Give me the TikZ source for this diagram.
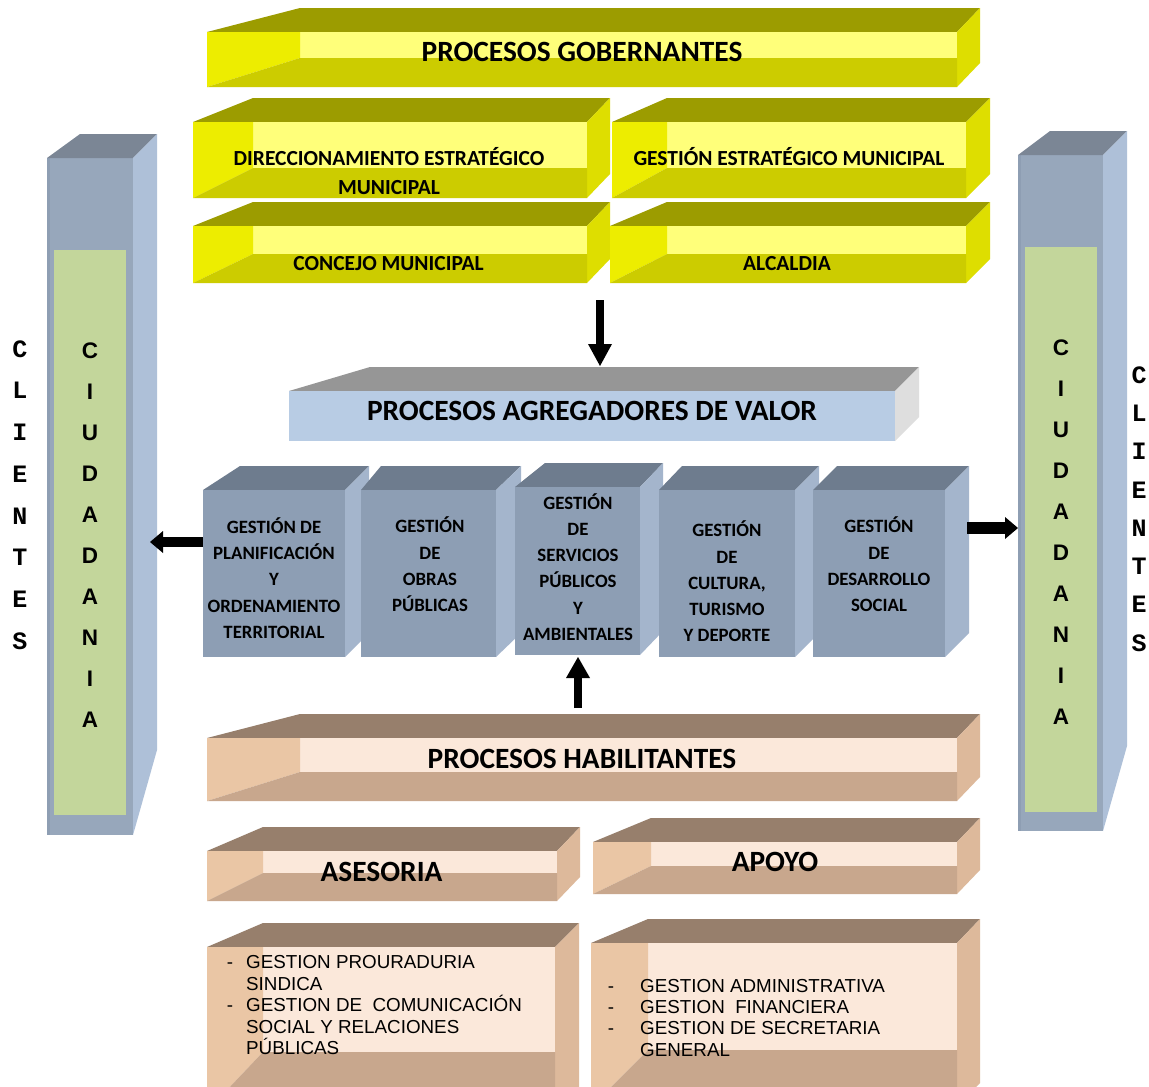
\documentclass[tikz,border=0pt]{standalone}
\usepackage{fontspec}
\newfontfamily\calib{Carlito}
\newfontfamily\ari{Liberation Sans}
\newfontfamily\monof{Liberation Mono}
\usetikzlibrary{arrows.meta}
% yellow palette
\definecolor{ytop}{HTML}{9C9C00}
\definecolor{yright}{HTML}{DEDE00}
\definecolor{yback}{HTML}{FFFF7A}
\definecolor{yleft}{HTML}{EDED00}
\definecolor{yfloor}{HTML}{CCCC00}
% brown palette
\definecolor{btop}{HTML}{977F6C}
\definecolor{bright}{HTML}{DDB99B}
\definecolor{bback}{HTML}{FBE8DA}
\definecolor{bleft}{HTML}{EAC6A5}
\definecolor{bfloor}{HTML}{C8A78D}
% blue title box
\definecolor{atop}{HTML}{969696}
\definecolor{aright}{HTML}{DEDEDE}
\definecolor{afront}{HTML}{B8CCE4}
% gray-blue boxes
\definecolor{gtop}{HTML}{6E7C8E}
\definecolor{gright}{HTML}{A4B5CC}
\definecolor{gfront}{HTML}{8D9EB4}
% columns
\definecolor{ctop}{HTML}{7B8695}
\definecolor{cright}{HTML}{AEC0D8}
\definecolor{cfront}{HTML}{97A7BB}
\definecolor{cedge}{HTML}{8E9EB3}
\definecolor{cgreen}{HTML}{C3D69B}
% open box: x1 x2 ytop ybot xleftback xrightback yinner palette
\newcommand\openbx[8]{%
  \fill[#8top] (#1,#3) -- (#5,#3-24) -- (#6,#3-24) -- (#2,#3) -- cycle;
  \fill[#8right] (#2,#3) -- (#6,#3-24) -- (#6,#4-24) -- (#2,#4) -- cycle;
  \fill[#8back] (#5,#3) rectangle (#2,#7);
  \fill[#8left] (#1,#3) -- (#5,#3) -- (#5,#7) -- (#1,#4) -- cycle;
  \fill[#8floor] (#1,#4) -- (#5,#7) -- (#2,#7) -- (#2,#4) -- cycle;
}
% solid box: x1 x2 ytop ybot xleftback xrightback palette
\newcommand\solidbx[7]{%
  \fill[#7top] (#1,#3) -- (#5,#3-24) -- (#6,#3-24) -- (#2,#3) -- cycle;
  \fill[#7right] (#2,#3) -- (#6,#3-24) -- (#6,#4-24) -- (#2,#4) -- cycle;
  \fill[#7front] (#1,#3) rectangle (#2,#4);
}
\begin{document}
\begin{tikzpicture}[x=1pt,y=-1pt,
  big/.style={font=\calib\bfseries\fontsize{29.4}{30}\selectfont, inner sep=0pt, anchor=base},
  ytxt/.style={font=\calib\bfseries\fontsize{21.5}{22}\selectfont, inner sep=0pt, anchor=base},
  gtxt/.style={font=\calib\bfseries\fontsize{18.8}{26.3}\selectfont, inner sep=0pt, align=center},
  ctxt/.style={font=\ari\bfseries\fontsize{22.5}{41}\selectfont, inner sep=0pt, align=center},
  cltxt/.style={font=\monof\bfseries\fontsize{25}{41.7}\selectfont, inner sep=0pt, align=center},
  cltxtb/.style={font=\monof\bfseries\fontsize{25}{38.3}\selectfont, inner sep=0pt, align=center},
  ltxt/.style={font=\ari\fontsize{18.8}{20}\selectfont, inner sep=0pt, anchor=base west},
  dtxt/.style={font=\ari\fontsize{18.8}{20}\selectfont, inner sep=0pt, anchor=base},
  barrow/.style={line width=#1}]
\useasboundingbox (0,0) rectangle (1149,1087);
\fill[white] (0,0) rectangle (1149,1087);
\clip (0,0) rectangle (1149,1087);

% ---------- columns ----------
\fill[cfront] (47,158) rectangle (133,835);
\fill[cedge] (47,158) rectangle (50,835);
\fill[ctop] (47,158) -- (80,134) -- (157,134) -- (133,158) -- cycle;
\fill[cright] (133,158) -- (157,134) -- (157,750) -- (133,835) -- cycle;
\fill[cgreen] (54,250) rectangle (126,815);

\fill[cfront] (1018,155) rectangle (1103,831);
\fill[cedge] (1018,155) rectangle (1021,831);
\fill[ctop] (1018,155) -- (1050,131) -- (1127,131) -- (1103,155) -- cycle;
\fill[cright] (1103,155) -- (1127,131) -- (1127,746) -- (1103,831) -- cycle;
\fill[cgreen] (1025,247) rectangle (1097,812);

\node[ctxt] (ciuL) at (90,535.5) {C\\I\\U\\D\\A\\D\\A\\N\\I\\A};
\node[ctxt] (ciuR) at (1061,532) {C\\I\\U\\D\\A\\D\\A\\N\\I\\A};
\node[cltxt] (cliL) at (20,495) {C\\L\\I\\E\\N\\T\\E\\S};
\node[cltxtb] (cliR) at (1139,509) {C\\L\\I\\E\\N\\T\\E\\S};

% ---------- gobernantes ----------
\openbx{207}{957}{32}{87}{300}{980}{58}{y}
\node[big] (gob) at (582,61.4) {PROCESOS GOBERNANTES};

\openbx{193}{587}{122}{198}{253}{610}{168}{y}
\openbx{612}{966}{122}{198}{667}{990}{168}{y}
\openbx{193}{587}{226}{283}{253}{610}{254}{y}
\openbx{610}{966}{226}{283}{667}{990}{254}{y}
\node[ytxt] (dir) at (389,165.9) {DIRECCIONAMIENTO ESTRATÉGICO};
\node[ytxt] (dirb) at (389,194.9) {MUNICIPAL};
\node[ytxt] (gem) at (789,165.9) {GESTIÓN ESTRATÉGICO MUNICIPAL};
\node[ytxt] (con) at (388.5,270.9) {CONCEJO MUNICIPAL};
\node[ytxt] (alc) at (787,270.9) {ALCALDIA};

% ---------- agregadores ----------
\solidbx{289}{895}{391}{441}{370}{919}{a}
\node[big] (agr) at (592,420.4) {PROCESOS AGREGADORES DE VALOR};

\solidbx{203}{345}{490}{657}{240}{369}{g}
\solidbx{361}{496}{490}{657}{381}{521}{g}
\solidbx{515}{640}{487}{655}{545}{663}{g}
\solidbx{659}{795}{490}{657}{682}{819}{g}
\solidbx{813}{945}{490}{657}{837}{969}{g}
\node[gtxt] (g1) at (274,578) {GESTIÓN DE\\PLANIFICACIÓN\\Y\\ORDENAMIENTO\\TERRITORIAL};
\node[gtxt] (g2) at (430,564.5) {GESTIÓN\\DE\\OBRAS\\PÚBLICAS};
\node[gtxt] (g3) at (578,567) {GESTIÓN\\DE\\SERVICIOS\\PÚBLICOS\\Y\\AMBIENTALES};
\node[gtxt] (g4) at (727,581.5) {GESTIÓN\\DE\\CULTURA,\\TURISMO\\Y DEPORTE};
\node[gtxt] (g5) at (879,564.5) {GESTIÓN\\DE\\DESARROLLO\\SOCIAL};

% ---------- habilitantes ----------
\openbx{207}{957}{738}{801}{300}{980}{772}{b}
\node[big] (hab) at (582,768.4) {PROCESOS HABILITANTES};
\openbx{207}{557}{851}{901}{263}{580}{873}{b}
\node[big] (ase) at (381.5,881.4) {ASESORIA};
\openbx{593}{957}{842}{894}{651}{980}{866}{b}
\node[big] (apo) at (775,871.4) {APOYO};

\openbx{207}{555}{947}{1111}{263}{579}{1052}{b}
\openbx{591}{957}{943}{1107}{648}{980}{1050}{b}

\node[dtxt] (d1) at (230,968.7) {-};
\node[ltxt] (l1) at (246,968.7) {GESTION PROURADURIA};
\node[ltxt] (l2) at (246,990.7) {SINDICA};
\node[dtxt] (d2) at (230,1011.7) {-};
\node[ltxt] (l3) at (246,1011.7) {GESTION DE\ \ COMUNICACIÓN};
\node[ltxt] (l4) at (246,1033.7) {SOCIAL Y RELACIONES};
\node[ltxt] (l5) at (246,1054.7) {PÚBLICAS};

\node[dtxt] (d3) at (611,992.7) {-};
\node[ltxt] (r1) at (640,992.7) {GESTION ADMINISTRATIVA};
\node[dtxt] (d4) at (611,1013.7) {-};
\node[ltxt] (r2) at (640,1013.7) {GESTION\ \ FINANCIERA};
\node[dtxt] (d5) at (611,1034.7) {-};
\node[ltxt] (r3) at (640,1034.7) {GESTION DE SECRETARIA};
\node[ltxt] (r4) at (640,1056.7) {GENERAL};

% ---------- arrows ----------
\coordinate (govOut) at (600,300);
\coordinate (agrIn) at (600,366);
\coordinate (habOut) at (578,708);
\coordinate (g3In) at (578,657);
\coordinate (g1Out) at (203,542);
\coordinate (colLIn) at (150,542);
\coordinate (g5Out) at (967,528);
\coordinate (colRIn) at (1018,528);
\draw[barrow=8pt, -{Triangle[width=24pt,length=22pt,line width=0pt]}] (govOut) -- (agrIn);
\draw[barrow=8pt, -{Triangle[width=24pt,length=21pt,line width=0pt]}] (habOut) -- (g3In);
\draw[barrow=10pt, -{Triangle[width=22pt,length=13pt,line width=0pt]}] (g1Out) -- (colLIn);
\draw[barrow=12pt, -{Triangle[width=22pt,length=13pt,line width=0pt]}] (g5Out) -- (colRIn);
\end{tikzpicture}
\end{document}
